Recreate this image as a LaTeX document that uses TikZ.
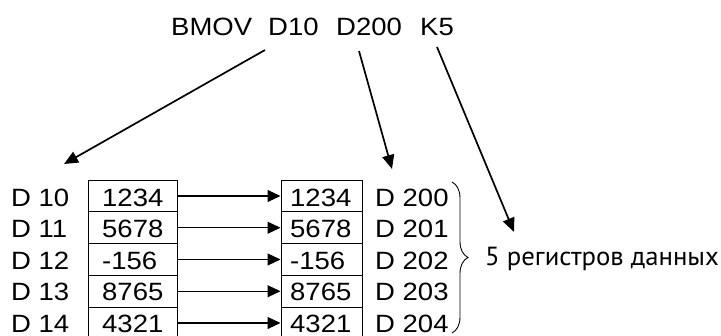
\documentclass[tikz,border=0pt]{standalone}
\usepackage{fontspec}
\setmainfont[FakeStretch=1.1]{Liberation Sans}
\newfontfamily\rufont[FakeStretch=1.02]{PT Sans}
\usetikzlibrary{arrows.meta,decorations.pathreplacing}
\begin{document}
\begin{tikzpicture}[x=1pt,y=-1pt,
  txt/.style={font=\fontsize{25}{25}\selectfont, inner sep=0pt, anchor=base west, text depth=0pt},
  cellL/.style={draw, line width=1pt, minimum width=89pt, minimum height=31.75pt, inner sep=0pt},
  cellR/.style={draw, line width=1pt, minimum width=81pt, minimum height=31.75pt, inner sep=0pt},
  ptr/.style={line width=1.7pt, -{Triangle[length=14pt,width=12pt]}},
  hptr/.style={line width=1.1pt, -{Triangle[length=13pt,width=12pt]}}
]
\useasboundingbox (0,0) rectangle (721,336);

% instruction words
\node[txt] (bmov) at (171,36) {BMOV};
\node[txt] (wd10) at (268,36) {D10};
\node[txt] (wd200) at (336,36) {D200};
\node[txt] (wk5) at (420,36) {K5};

% arrow end points
\coordinate (s1) at (265,50);
\coordinate (e1) at (64,164);
\coordinate (s2) at (359,51);
\coordinate (e2) at (392,169);
\coordinate (s3) at (437,47);
\coordinate (e3) at (514,232);

\draw[ptr] (s1) -- (e1);
\draw[ptr] (s2) -- (e2);
\draw[ptr] (s3) -- (e3);

% rows
\foreach \i/\lab/\val/\rlab in {0/10/1234/200, 1/11/5678/201, 2/12/-156/202, 3/13/8765/203, 4/14/4321/204}{
  \pgfmathsetmacro{\yc}{196+31.75*\i}
  \pgfmathsetmacro{\yb}{206.5+31.4*\i}
  \node[cellL] (L\i) at (132.5,\yc) {};
  \node[cellR] (R\i) at (321.5,\yc) {};
  \node[txt] (LL\i) at (11,\yb) {D \lab};
  \node[txt] (LV\i) at (102,\yb) {\val};
  \node[txt] (RV\i) at (290,\yb) {\val};
  \node[txt] (RL\i) at (375,\yb) {D \rlab};
  \draw[hptr] (L\i.east) -- (R\i.west);
}

% brace
\coordinate (bt) at (452,182);
\coordinate (bb) at (452,333);
\draw[line width=0.9pt, decorate, decoration={brace, amplitude=16pt}] (bt) -- (bb);

\node[anchor=base west, inner sep=0pt, text depth=0pt, font=\rufont\fontsize{26.2}{26.2}\selectfont] (regs) at (485,266) {5 регистров данных};
\end{tikzpicture}
\end{document}
